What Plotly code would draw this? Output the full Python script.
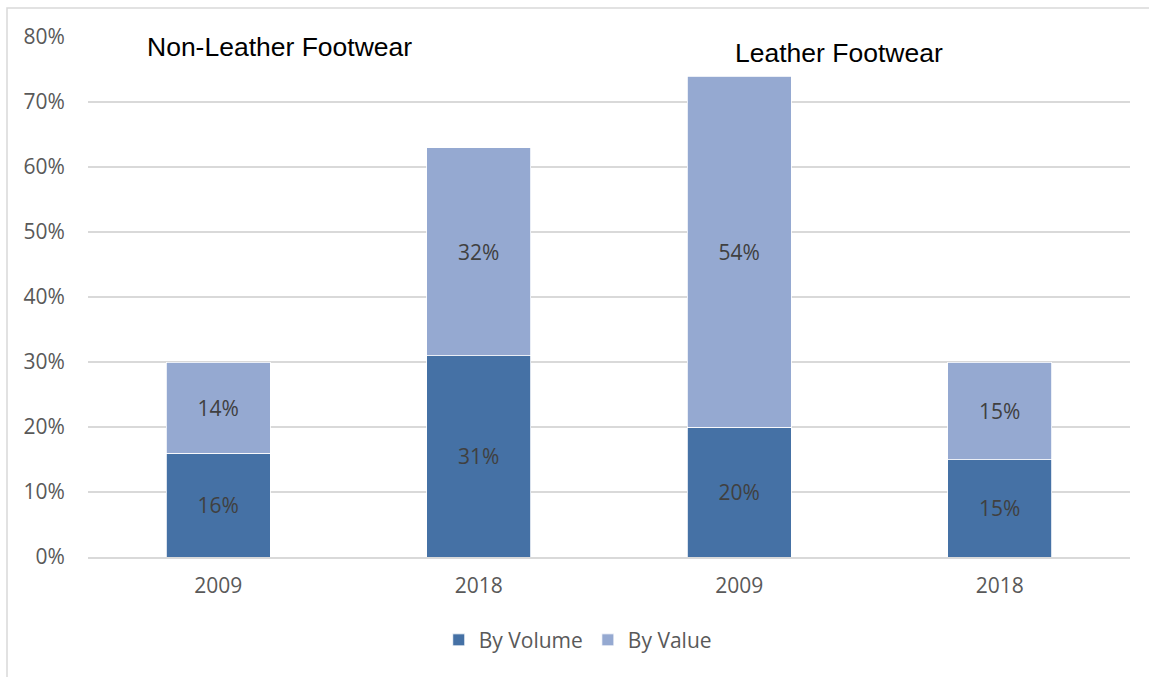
import plotly.graph_objects as go

categories = ["2009", "2018", "2009", "2018"]
by_volume = [16, 31, 20, 15]
by_value = [14, 32, 54, 15]
group_titles = ["Non-Leather Footwear", "Leather Footwear"]
y_ticks = [0, 10, 20, 30, 40, 50, 60, 70, 80]

x = list(range(len(categories)))
font_fam = "Open Sans"
dark = "#4571A5"
light = "#95A9D1"
fs = 21

fig = go.Figure()
fig.add_trace(go.Bar(
    x=x, y=by_volume, name="By Volume", marker=dict(color=dark, line=dict(color="white", width=0.8)),
    text=[f"{v}%" for v in by_volume], textposition="inside", insidetextanchor="middle",
    textfont=dict(family=font_fam, size=fs, color="#404040"), width=0.4,
))
fig.add_trace(go.Bar(
    x=x, y=by_value, name="By Value", marker=dict(color=light, line=dict(color="white", width=0.8)),
    text=[f"{v}%" for v in by_value], textposition="inside", insidetextanchor="middle",
    textfont=dict(family=font_fam, size=fs, color="#404040"), width=0.4,
))

fig.update_layout(
    barmode="stack",
    width=1149, height=677,
    margin=dict(l=88, r=19, t=37, b=120),
    plot_bgcolor="white", paper_bgcolor="white",
    font=dict(family=font_fam, size=fs, color="#595959"),
    xaxis=dict(tickvals=x, ticktext=categories, range=[-0.5, 3.5], showgrid=False,
               showline=True, linecolor="#D9D9D9", linewidth=1.5, ticks="outside", ticklen=9,
               tickcolor="rgba(0,0,0,0)",
               tickfont=dict(family=font_fam, size=fs, color="#595959")),
    yaxis=dict(range=[0, 80], tickvals=y_ticks, ticktext=[f"{t}%" for t in y_ticks],
               showgrid=True, gridcolor="#D9D9D9", gridwidth=1.5, zeroline=False,
               ticks="outside", ticklen=18, tickcolor="rgba(0,0,0,0)",
               tickfont=dict(family=font_fam, size=fs, color="#595959")),
    legend=dict(orientation="h", x=0.47, xanchor="center", y=-0.16, yanchor="middle",
                font=dict(family=font_fam, size=fs, color="#595959"), traceorder="normal"),
    bargap=0.6,
)

fig.add_annotation(text=group_titles[0], xref="paper", yref="paper",
                   x=(145 - 88) / 1042, xanchor="left", y=1 - (47 - 37) / 520, yanchor="middle",
                   showarrow=False, font=dict(family="Liberation Sans", size=26.5, color="black"))
fig.add_annotation(text=group_titles[1], xref="paper", yref="paper",
                   x=(733 - 88) / 1042, xanchor="left", y=1 - (53 - 37) / 520, yanchor="middle",
                   showarrow=False, font=dict(family="Liberation Sans", size=26.5, color="black"))

fig.add_shape(type="rect", xref="paper", yref="paper",
              x0=(7 - 88) / 1042, x1=(1160 - 88) / 1042,
              y0=1 - (690 - 37) / 520, y1=1 + (37 - 8) / 520,
              line=dict(color="#D9D9D9", width=1.5), layer="below")

fig.write_html("out.html")
